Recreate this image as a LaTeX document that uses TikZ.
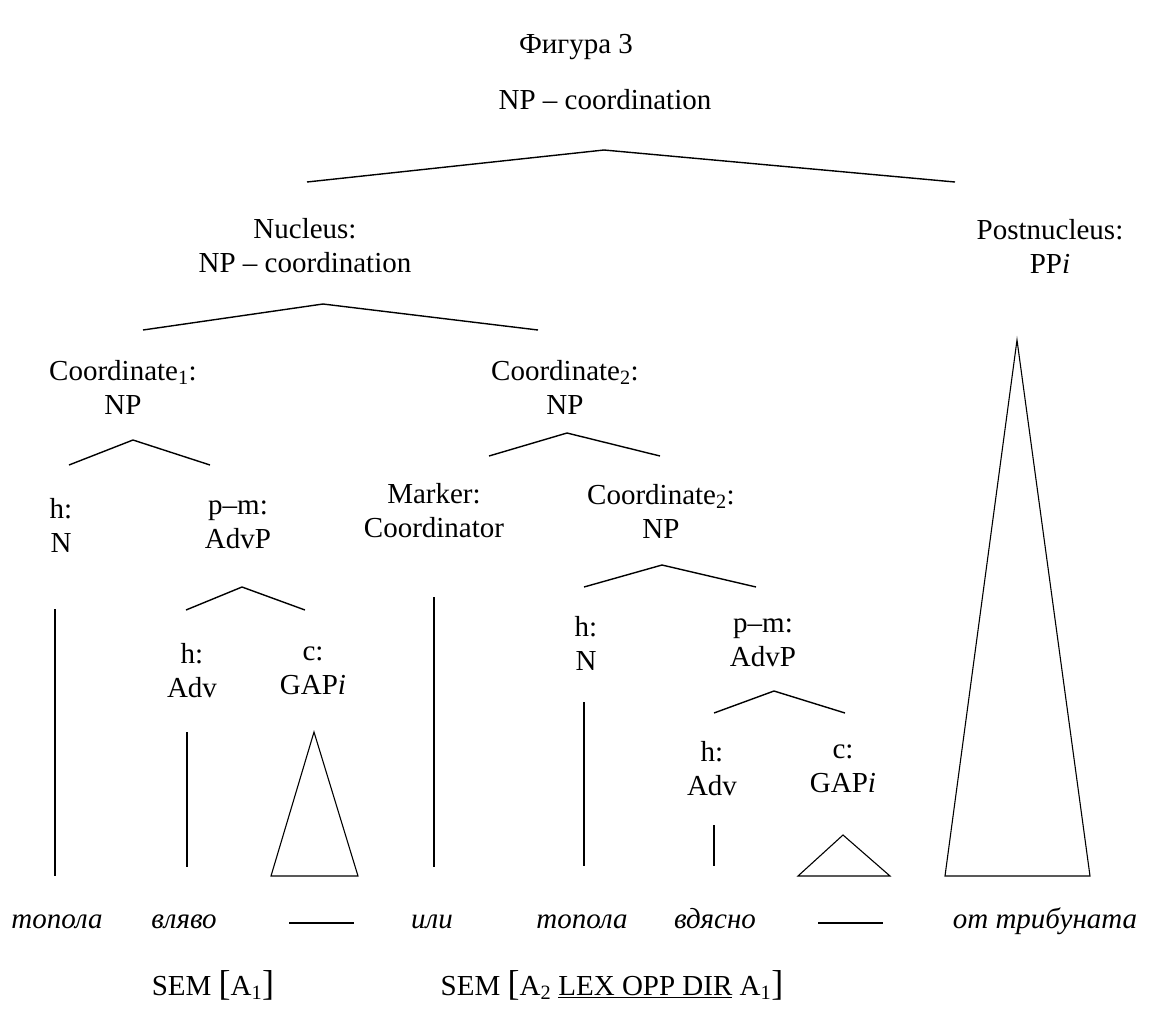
\documentclass[tikz,border=0pt]{standalone}
\usepackage{fontspec}
\setmainfont{Liberation Serif}
\begin{document}
\begin{tikzpicture}[x=1pt,y=-1pt,
  lbl/.style={align=center, font=\fontsize{29}{34}\selectfont, inner sep=0pt},
  word/.style={font=\fontsize{29}{34}\selectfont\itshape, inner sep=0pt, anchor=base},
  branch/.style={line width=1.4pt, line join=miter},
  stem/.style={line width=1.1pt},
  gapline/.style={line width=1.8pt}]
\useasboundingbox (0,0) rectangle (1152,1013);

% labels of the tree
\node[lbl] (title) at (576,47) {Фигура 3};
\node[lbl] (root) at (605,100) {NP -- coordination};
\node[lbl] (nuc) at (305,246) {Nucleus:\\NP -- coordination};
\node[lbl] (post) at (1050,246) {Postnucleus:\\PP\textit{i}};
\node[lbl] (coA) at (123,387) {Coordinate\textsubscript{1}:\\NP};
\node[lbl] (coB) at (565,387) {Coordinate\textsubscript{2}:\\NP};
\node[lbl] (hA) at (61,525) {h:\\N};
\node[lbl] (pmA) at (238,525) {p--m:\\AdvP};
\node[lbl] (marker) at (434,511) {Marker:\\Coordinator};
\node[lbl] (coC) at (661,511) {Coordinate\textsubscript{2}:\\NP};
\node[lbl] (hadvA) at (192,671) {h:\\Adv};
\node[lbl] (gapA) at (313,671) {c:\\GAP\textit{i}};
\node[lbl] (hB) at (586,643) {h:\\N};
\node[lbl] (pmB) at (763,643) {p--m:\\AdvP};
\node[lbl] (hadvB) at (712,769) {h:\\Adv};
\node[lbl] (gapB) at (843,769) {c:\\GAP\textit{i}};

% branch points
\coordinate (r0) at (604,150); \coordinate (r1) at (307,182); \coordinate (r2) at (955,182);
\coordinate (n0) at (323,304); \coordinate (n1) at (143,330); \coordinate (n2) at (538,330);
\coordinate (a0) at (133,440); \coordinate (a1) at (69,465);  \coordinate (a2) at (210,465);
\coordinate (b0) at (567,433); \coordinate (b1) at (489,456); \coordinate (b2) at (660,456);
\coordinate (p0) at (242,587); \coordinate (p1) at (186,610); \coordinate (p2) at (305,610);
\coordinate (c0) at (662,565); \coordinate (c1) at (584,587); \coordinate (c2) at (756,587);
\coordinate (q0) at (774,691); \coordinate (q1) at (714,713); \coordinate (q2) at (845,713);

\draw[branch] (r1) -- (r0) -- (r2);
\draw[branch] (n1) -- (n0) -- (n2);
\draw[branch] (a1) -- (a0) -- (a2);
\draw[branch] (b1) -- (b0) -- (b2);
\draw[branch] (p1) -- (p0) -- (p2);
\draw[branch] (c1) -- (c0) -- (c2);
\draw[branch] (q1) -- (q0) -- (q2);

% stems and triangles
\coordinate (s1t) at (55,609);  \coordinate (s1b) at (55,876);
\coordinate (s2t) at (187,732); \coordinate (s2b) at (187,867);
\coordinate (s3t) at (434,597); \coordinate (s3b) at (434,867);
\coordinate (s4t) at (584,702); \coordinate (s4b) at (584,866);
\coordinate (s5t) at (714,825); \coordinate (s5b) at (714,866);
\draw[stem] (s1t) -- (s1b);
\draw[stem] (s2t) -- (s2b);
\draw[stem] (s3t) -- (s3b);
\draw[stem] (s4t) -- (s4b);
\draw[stem] (s5t) -- (s5b);

\coordinate (t1a) at (314,732); \coordinate (t1l) at (271,876); \coordinate (t1r) at (358,876);
\coordinate (t2a) at (843,835); \coordinate (t2l) at (798,876); \coordinate (t2r) at (890,876);
\coordinate (t3a) at (1017,340); \coordinate (t3l) at (945,876); \coordinate (t3r) at (1090,876);
\draw[stem] (t1a) -- (t1l) -- (t1r) -- cycle;
\draw[stem] (t2a) -- (t2l) -- (t2r) -- cycle;
\draw[stem] (t3a) -- (t3l) -- (t3r) -- cycle;

% terminal string
\node[word] (w1) at (57,928) {топола};
\node[word] (w2) at (184,928) {вляво};
\coordinate (g1l) at (289,923); \coordinate (g1r) at (354,923);
\draw[gapline] (g1l) -- (g1r);
\node[word] (w3) at (432,928) {или};
\node[word] (w4) at (582,928) {топола};
\node[word] (w5) at (715,928) {вдясно};
\coordinate (g2l) at (818,923); \coordinate (g2r) at (883,923);
\draw[gapline] (g2l) -- (g2r);
\node[word] (w6) at (1045,928) {от трибуната};

% semantic annotations
\node[lbl] (semA) at (213,985) {SEM {\fontsize{36}{36}\selectfont[}A\textsubscript{1}{\fontsize{36}{36}\selectfont]}};
\node[lbl] (semB) at (612,985) {SEM {\fontsize{36}{36}\selectfont[}A\textsubscript{2} \underline{LEX OPP DIR} A\textsubscript{1}{\fontsize{36}{36}\selectfont]}};
\end{tikzpicture}
\end{document}
